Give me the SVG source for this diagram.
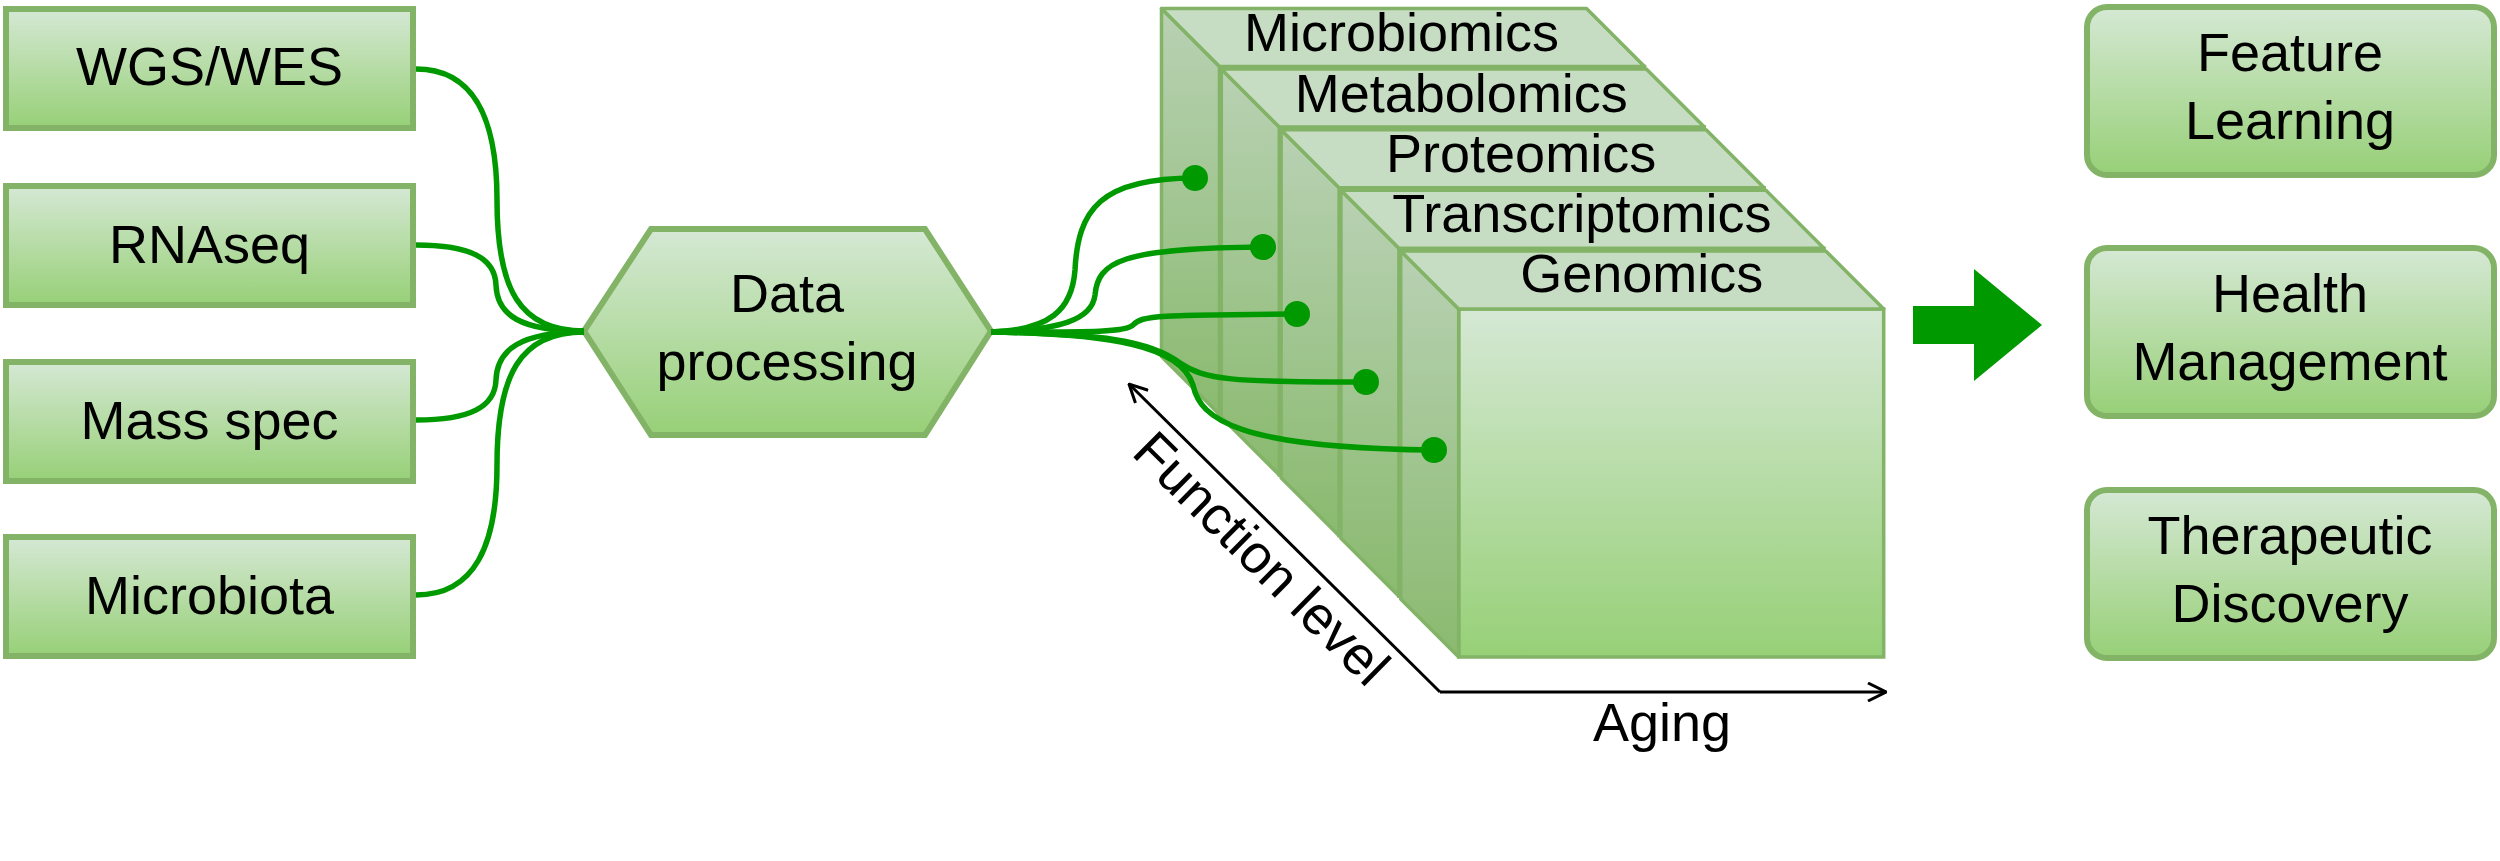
<svg xmlns="http://www.w3.org/2000/svg" width="2500" height="861" viewBox="0 0 2500 861">
<defs>
<linearGradient id="g" x1="0" y1="0" x2="0" y2="1"><stop offset="0" stop-color="#d5e8d4"/><stop offset="1" stop-color="#97d077"/></linearGradient>
<linearGradient id="gs" x1="0" y1="0" x2="0" y2="1"><stop offset="0" stop-color="#b8d1b3"/><stop offset="1" stop-color="#8aba6f"/></linearGradient>
<marker id="open" viewBox="0 0 20 20" refX="19" refY="10" markerWidth="20" markerHeight="20" markerUnits="userSpaceOnUse" orient="auto"><path d="M1,1 L19,10 L1,19" fill="none" stroke="#000" stroke-width="3"/></marker>
</defs>
<style>
.box{fill:url(#g);stroke:#82b366;stroke-width:6}
.top{fill:#c7ddc3;stroke:#82b366;stroke-width:3.5;stroke-linejoin:round}
.side{fill:url(#gs);stroke:#82b366;stroke-width:3.5;stroke-linejoin:round}
.front{fill:url(#g);stroke:#82b366;stroke-width:3.5}
text{font-family:"Liberation Sans",Arial,Helvetica,sans-serif;font-size:54px;fill:#000;text-anchor:middle}
.edge{fill:none;stroke:#009900;stroke-width:5.5}
.dot{fill:#009900}
.axis{fill:none;stroke:#000;stroke-width:3;marker-end:url(#open)}
</style>
<rect width="2500" height="861" fill="#fff"/>

<g id="wgs"><rect class="box" x="6" y="9" width="407" height="119"/><text x="209.5" y="85">WGS/WES</text></g>
<g id="rnaseq"><rect class="box" x="6" y="186" width="407" height="119"/><text x="209.5" y="263">RNAseq</text></g>
<g id="massspec"><rect class="box" x="6" y="362" width="407" height="119"/><text x="209.5" y="439">Mass spec</text></g>
<g id="microbiota"><rect class="box" x="6" y="537" width="407" height="119"/><text x="209.5" y="614">Microbiota</text></g>

<g id="dataprocessing"><polygon class="box" points="584,331 651,229 925,229 991,331 925,435 651,435"/><text x="787" y="312">Data</text><text x="787" y="380">processing</text></g>

<g id="microbiomics">
<polygon class="front" points="1219.5,66.5 1644.5,66.5 1644.5,414.5 1219.5,414.5"/>
<polygon class="side" points="1161.5,8.5 1219.5,66.5 1219.5,414.5 1161.5,356.5"/>
<polygon class="top" points="1161.5,8.5 1586.5,8.5 1644.5,66.5 1219.5,66.5"/>
<text x="1401.5" y="51">Microbiomics</text>
</g>
<g id="metabolomics">
<polygon class="front" points="1279.3,127.1 1704.3,127.1 1704.3,475.1 1279.3,475.1"/>
<polygon class="side" points="1221.3,69.1 1279.3,127.1 1279.3,475.1 1221.3,417.1"/>
<polygon class="top" points="1221.3,69.1 1646.3,69.1 1704.3,127.1 1279.3,127.1"/>
<text x="1461.3" y="112">Metabolomics</text>
</g>
<g id="proteomics">
<polygon class="front" points="1339.1,187.7 1764.1,187.7 1764.1,535.7 1339.1,535.7"/>
<polygon class="side" points="1281.1,129.7 1339.1,187.7 1339.1,535.7 1281.1,477.7"/>
<polygon class="top" points="1281.1,129.7 1706.1,129.7 1764.1,187.7 1339.1,187.7"/>
<text x="1521.1" y="172">Proteomics</text>
</g>
<g id="transcriptomics">
<polygon class="front" points="1398.9,248.3 1823.9,248.3 1823.9,596.3 1398.9,596.3"/>
<polygon class="side" points="1340.9,190.3 1398.9,248.3 1398.9,596.3 1340.9,538.3"/>
<polygon class="top" points="1340.9,190.3 1765.9,190.3 1823.9,248.3 1398.9,248.3"/>
<text x="1581.9" y="232">Transcriptomics</text>
</g>
<g id="genomics">
<polygon class="front" points="1458.7,308.9 1883.7,308.9 1883.7,656.9 1458.7,656.9"/>
<polygon class="side" points="1400.7,250.9 1458.7,308.9 1458.7,656.9 1400.7,598.9"/>
<polygon class="top" points="1400.7,250.9 1825.7,250.9 1883.7,308.9 1458.7,308.9"/>
<text x="1641.7" y="292">Genomics</text>
</g>

<g id="axes">
<path class="axis" d="M1440,692 L1129,384"/>
<path class="axis" d="M1440,692 L1886,692"/>
<text transform="translate(1262,558) rotate(44.7)" x="0" y="19">Function level</text>
<text x="1662" y="741">Aging</text>
</g>

<g id="bigarrow"><polygon fill="#009900" points="1913,306 1974,306 1974,269 2042,325 1974,381 1974,344 1913,344"/></g>

<g id="featurelearning"><rect class="box" x="2087" y="7" width="407" height="168" rx="20"/><text x="2290" y="71">Feature</text><text x="2290" y="139">Learning</text></g>
<g id="healthmanagement"><rect class="box" x="2087" y="248" width="407" height="168" rx="20"/><text x="2290" y="312">Health</text><text x="2290" y="380">Management</text></g>
<g id="therapeuticdiscovery"><rect class="box" x="2087" y="490" width="407" height="168" rx="20"/><text x="2290" y="554">Therapeutic</text><text x="2290" y="622">Discovery</text></g>

<g id="connectors">
<path class="edge" d="M416,69 C475,69 497,120 497,200 C497,290 520,331 584,331"/>
<path class="edge" d="M416,245 C470,245 495,258 496,285 C497,315 520,331 584,331"/>
<path class="edge" d="M416,420 C470,420 495,407 496,380 C497,350 520,332 584,332"/>
<path class="edge" d="M416,595 C475,595 497,545 497,465 C497,375 520,332 584,332"/>
<path class="edge" d="M991,332 C1050,330 1072,310 1075,270 C1078,210 1100,178 1195,178"/>
<path class="edge" d="M991,332 C1060,330 1092,320 1095,295 C1098,262 1120,248 1263,247"/>
<path class="edge" d="M991,332 C1080,332 1125,333 1133,325 C1142,315 1160,315 1297,314"/>
<path class="edge" d="M991,332 C1100,334 1150,340 1180,363 C1205,380 1230,382 1366,382"/>
<path class="edge" d="M991,332 C1110,334 1180,345 1193,385 C1200,420 1240,448 1434,450"/>
<circle class="dot" cx="1195" cy="178" r="13"/>
<circle class="dot" cx="1263" cy="247" r="13"/>
<circle class="dot" cx="1297" cy="314" r="13"/>
<circle class="dot" cx="1366" cy="382" r="13"/>
<circle class="dot" cx="1434" cy="450" r="13"/>
</g>
</svg>
